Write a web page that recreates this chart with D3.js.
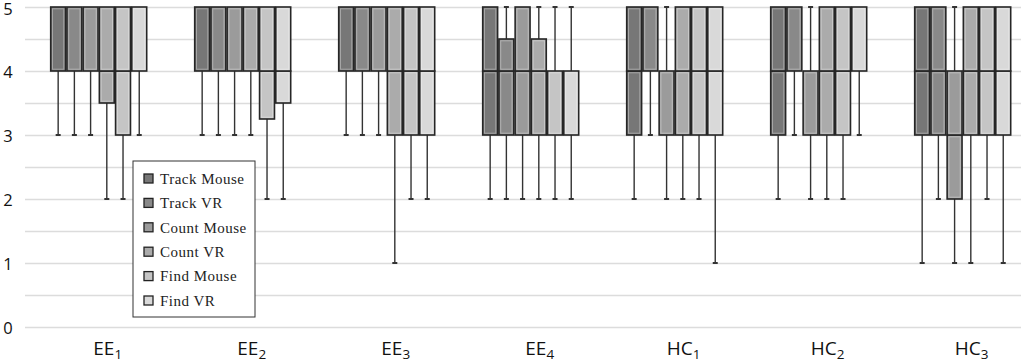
<!DOCTYPE html>
<html>
<head>
<meta charset="utf-8">
<script src="https://cdn.jsdelivr.net/npm/d3@7"></script>
<style>
  body { margin: 0; background: #fff; }
  svg { display: block; }
</style>
</head>
<body>
<svg id="chart" width="1021" height="364"></svg>
<script>
// conditions (x groups) and their subscripts
var groups = ["EE1", "EE2", "EE3", "EE4", "HC1", "HC2", "HC3"];
var groupBase = ["EE", "EE", "EE", "EE", "HC", "HC", "HC"];
var groupSub = ["1", "2", "3", "4", "1", "2", "3"];

var series = ["Track Mouse", "Track VR", "Count Mouse", "Count VR", "Find Mouse", "Find VR"];
var seriesColors = ["#777777", "#898989", "#9b9b9b", "#ababab", "#c5c5c5", "#d9d9d9"];

// each entry: [min, q1, median, q3, max], one entry per group
var trackMouse = [[3, 4, 4, 5, 5], [3, 4, 4, 5, 5], [3, 4, 4, 5, 5], [2, 3, 4, 5, 5], [2, 3, 4, 5, 5], [2, 3, 4, 5, 5], [1, 3, 4, 5, 5]];
var trackVR    = [[3, 4, 4, 5, 5], [3, 4, 4, 5, 5], [3, 4, 4, 5, 5], [2, 3, 4, 4.5, 5], [3, 4, 4, 5, 5], [3, 4, 4, 5, 5], [2, 3, 4, 5, 5]];
var countMouse = [[3, 4, 4, 5, 5], [3, 4, 4, 5, 5], [3, 4, 4, 5, 5], [2, 3, 4, 5, 5], [2, 3, 4, 4, 5], [2, 3, 4, 4, 5], [1, 2, 3, 4, 5]];
var countVR    = [[2, 3.5, 4, 5, 5], [3, 4, 4, 5, 5], [1, 3, 4, 5, 5], [2, 3, 4, 4.5, 5], [2, 3, 4, 5, 5], [2, 3, 4, 5, 5], [1, 3, 4, 5, 5]];
var findMouse  = [[2, 3, 4, 5, 5], [2, 3.25, 4, 5, 5], [2, 3, 4, 5, 5], [2, 3, 4, 4, 5], [2, 3, 4, 5, 5], [2, 3, 4, 5, 5], [2, 3, 4, 5, 5]];
var findVR     = [[3, 4, 4, 5, 5], [2, 3.5, 4, 5, 5], [2, 3, 4, 5, 5], [2, 3, 4, 4, 5], [1, 3, 4, 5, 5], [3, 4, 4, 5, 5], [1, 3, 4, 5, 5]];

var yTicks = [0, 1, 2, 3, 4, 5];
var yGrid = [0, 0.5, 1, 1.5, 2, 2.5, 3, 3.5, 4, 4.5, 5];

var allSeries = [trackMouse, trackVR, countMouse, countVR, findMouse, findVR];

var svg = d3.select("#chart");

var y = d3.scaleLinear().domain([0, 5]).range([327, 7]);
var x = d3.scaleBand().domain(groups).range([26.7, 1034.7]);
var xs = d3.scaleBand().domain(series).range([24, 120]).paddingInner(0.08);

// gridlines
svg.append("g")
  .selectAll("line")
  .data(yGrid)
  .enter()
  .append("line")
  .attr("x1", 25)
  .attr("x2", 1021)
  .attr("y1", (d) => Math.round(y(d)) + 0.5)
  .attr("y2", (d) => Math.round(y(d)) + 0.5)
  .attr("stroke", "#dcdcdc")
  .attr("stroke-width", 1.3);

// y tick labels
svg.append("g")
  .selectAll("text")
  .data(yTicks)
  .enter()
  .append("text")
  .attr("x", 8)
  .attr("y", (d) => Math.max(y(d), 8.5))
  .attr("dy", "0.4em")
  .attr("text-anchor", "middle")
  .style("font-family", "'Open Sans', sans-serif")
  .style("font-size", "16.5px")
  .style("fill", "#111")
  .text((d) => d);

// x labels with subscripts
var xl = svg.append("g")
  .selectAll("text")
  .data(groups)
  .enter()
  .append("text")
  .attr("x", (d) => x(d) + x.bandwidth() / 2 + 9)
  .attr("y", 355)
  .attr("text-anchor", "middle")
  .style("font-family", "'Open Sans', sans-serif")
  .style("font-size", "19px")
  .style("fill", "#111");
xl.append("tspan").text((d, i) => groupBase[i]);
xl.append("tspan")
  .attr("dy", 4)
  .style("font-size", "13.5px")
  .text((d, i) => groupSub[i]);

// boxes
var boxes = [];
allSeries.forEach((s, si) => {
  s.forEach((v, gi) => {
    boxes.push({ g: groups[gi], s: series[si], color: seriesColors[si], min: v[0], q1: v[1], med: v[2], q3: v[3], max: v[4] });
  });
});

var bw = xs.bandwidth();
var bg = svg.append("g")
  .selectAll("g")
  .data(boxes)
  .enter()
  .append("g")
  .attr("transform", (d) => `translate(${x(d.g) + xs(d.s)},0)`);

// whiskers
function whisker(sel, from, to) {
  sel.filter((d) => d[from] !== d[to])
    .append("line")
    .attr("x1", bw / 2)
    .attr("x2", bw / 2)
    .attr("y1", (d) => y(d[from]))
    .attr("y2", (d) => y(d[to]))
    .attr("stroke", "#333")
    .attr("stroke-width", 1.4);
  sel.filter((d) => d[from] !== d[to])
    .append("rect")
    .attr("x", bw / 2 - 2.5)
    .attr("width", 5)
    .attr("y", (d) => y(d[to]) - 1)
    .attr("height", 2)
    .attr("fill", "#333");
}
whisker(bg, "q1", "min");
whisker(bg, "q3", "max");

// box segments (q1-median, median-q3)
function segment(sel, lo, hi) {
  var seg = sel.filter((d) => d[lo] !== d[hi]);
  seg.append("rect")
    .attr("x", 0)
    .attr("width", bw)
    .attr("y", (d) => y(d[hi]))
    .attr("height", (d) => y(d[lo]) - y(d[hi]))
    .attr("fill", (d) => d.color)
    .attr("stroke", "#262626")
    .attr("stroke-width", 1.6);
  seg.append("rect")
    .attr("x", 1.8)
    .attr("width", bw - 3.6)
    .attr("y", (d) => y(d[hi]) + 1.8)
    .attr("height", (d) => Math.max(0, y(d[lo]) - y(d[hi]) - 3.6))
    .attr("fill", "none")
    .attr("stroke", "#fff")
    .attr("stroke-opacity", 0.35)
    .attr("stroke-width", 1);
}
segment(bg, "q1", "med");
segment(bg, "med", "q3");

// legend
var legend = svg.append("g").attr("transform", "translate(133,161)");
legend.append("rect")
  .attr("width", 122)
  .attr("height", 156)
  .attr("fill", "#fff")
  .attr("stroke", "#333")
  .attr("stroke-width", 1);

var li = legend.selectAll(".legend-item")
  .data(series)
  .enter()
  .append("g")
  .attr("class", "legend-item")
  .attr("transform", (d, i) => `translate(11,${17.5 + i * 24.4})`);

li.append("rect")
  .attr("x", 0)
  .attr("y", -4.5)
  .attr("width", 9)
  .attr("height", 9)
  .attr("fill", (d, i) => seriesColors[i])
  .attr("stroke", "#222")
  .attr("stroke-width", 1.3);

li.append("text")
  .attr("x", 16)
  .attr("y", 0)
  .attr("dy", "0.35em")
  .style("font-family", "'Liberation Serif', 'DejaVu Serif', serif")
  .style("font-size", "15px")
  .style("letter-spacing", "0.5px")
  .style("fill", "#222")
  .text((d) => d);
</script>
</body>
</html>
